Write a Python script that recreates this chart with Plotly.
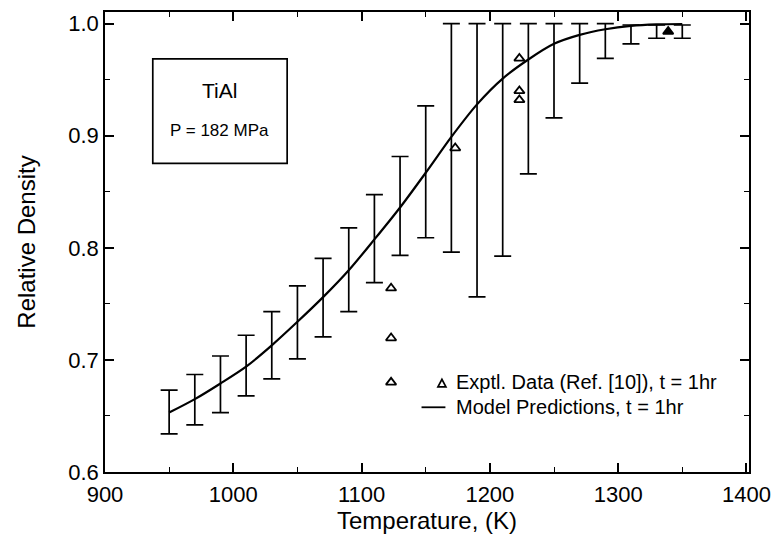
import plotly.graph_objects as go

# ---------------- data ----------------
model_T = [950, 970, 990, 1010, 1030, 1050, 1070, 1090, 1110, 1130, 1150,
           1170, 1190, 1210, 1230, 1250, 1270, 1290, 1310, 1330, 1350]
model_rho = [0.653, 0.665, 0.679, 0.694, 0.713, 0.734, 0.756, 0.780, 0.8075, 0.836, 0.867,
             0.899, 0.928, 0.951, 0.968, 0.982, 0.990, 0.995, 0.998, 0.9993, 0.9997]
band_upper = [0.673, 0.687, 0.7035, 0.722, 0.743, 0.766, 0.7906, 0.8178, 0.8475, 0.8815, 0.9266,
              1.0, 1.0, 1.0, 1.0, 1.0, 1.0, 1.0, 0.9988, 0.9988, 0.9988]
band_lower = [0.634, 0.642, 0.653, 0.668, 0.683, 0.701, 0.7206, 0.743, 0.769, 0.7932, 0.809,
              0.7962, 0.7562, 0.7926, 0.866, 0.916, 0.947, 0.969, 0.982, 0.987, 0.987]

exp_T = [1123, 1123, 1123, 1173, 1223, 1223, 1223, 1339]
exp_rho = [0.764, 0.7195, 0.680, 0.889, 0.969, 0.940, 0.932, 0.993]
exp_filled = [False, False, False, False, False, False, False, True]

x_ticks = [900, 1000, 1100, 1200, 1300, 1400]
y_ticks = [0.6, 0.7, 0.8, 0.9, 1.0]
y_tick_text = ["0.6", "0.7", "0.8", "0.9", "1.0"]

legend_exp = "Exptl. Data (Ref. [10]), t = 1hr"
legend_model = "Model Predictions, t = 1hr"
box_title = "TiAl"
box_sub = "P = 182 MPa"

# ---------------- figure ----------------
W, H = 781, 540
L, R, T, B = 105, 29, 10, 68
PW, PH = W - L - R, H - T - B

def px(xp):
    return (xp - L) / PW

def py(yp):
    return (H - B - yp) / PH

FONT = "Liberation Sans, Arial, Helvetica, sans-serif"

err_plus = [u - m for u, m in zip(band_upper, model_rho)]
err_minus = [m - l for m, l in zip(model_rho, band_lower)]

fig = go.Figure()

fig.add_trace(go.Scatter(
    x=model_T, y=model_rho, mode="lines",
    line=dict(color="black", width=2.2, shape="spline", smoothing=0.8),
    error_y=dict(type="data", symmetric=False, array=err_plus, arrayminus=err_minus,
                 color="black", thickness=1.7, width=8.5),
    showlegend=False, hoverinfo="skip"))

fig.add_trace(go.Scatter(
    x=exp_T, y=exp_rho, mode="markers",
    marker=dict(symbol=["triangle-up" if f else "triangle-up-open" for f in exp_filled],
                size=9, color="black", line=dict(color="black", width=1.8)),
    showlegend=False, hoverinfo="skip"))

axis_common = dict(
    showline=True, linecolor="black", linewidth=1.7, mirror="ticks",
    ticks="inside", ticklen=9, tickwidth=1.5, tickcolor="black",
    showgrid=False, zeroline=False,
    tickfont=dict(family=FONT, size=22, color="black"),
)

fig.update_xaxes(
    range=[900, 1402], tickvals=x_ticks, ticktext=[str(v) for v in x_ticks],
    minor=dict(dtick=50, ticks="inside", ticklen=5, tickwidth=1.3, tickcolor="black", tick0=900),
    title=dict(text="Temperature, (K)", font=dict(family=FONT, size=24, color="black"), standoff=5),
    ticklabelstandoff=2,
    **axis_common)
fig.update_yaxes(
    range=[0.6, 1.0104], tickvals=y_ticks, ticktext=y_tick_text,
    minor=dict(dtick=0.05, ticks="inside", ticklen=5, tickwidth=1.3, tickcolor="black", tick0=0.6),
    title=dict(text="Relative Density", font=dict(family=FONT, size=24, color="black"), standoff=26),
    **axis_common)

shapes = []
annotations = []

# label box
shapes.append(dict(type="rect", xref="paper", yref="paper",
                   x0=px(153), x1=px(288), y0=py(162), y1=py(57),
                   line=dict(color="black", width=1.7), fillcolor="rgba(0,0,0,0)"))
annotations.append(dict(xref="paper", yref="paper", x=px(220), y=py(89), text=box_title,
                        showarrow=False, xanchor="center", yanchor="middle",
                        font=dict(family=FONT, size=21, color="black")))
annotations.append(dict(xref="paper", yref="paper", x=px(220), y=py(129), text=box_sub,
                        showarrow=False, xanchor="center", yanchor="middle",
                        font=dict(family=FONT, size=17, color="black")))

# legend (drawn manually)
annotations.append(dict(xref="paper", yref="paper", x=px(456), y=py(382), text=legend_exp,
                        showarrow=False, xanchor="left", yanchor="middle",
                        font=dict(family=FONT, size=20, color="black")))
annotations.append(dict(xref="paper", yref="paper", x=px(456), y=py(407), text=legend_model,
                        showarrow=False, xanchor="left", yanchor="middle",
                        font=dict(family=FONT, size=20, color="black")))
shapes.append(dict(type="line", xref="paper", yref="paper",
                   x0=px(423), x1=px(447), y0=py(407), y1=py(407),
                   line=dict(color="black", width=1.8)))
shapes.append(dict(type="path", xref="paper", yref="paper",
                   xsizemode="pixel", ysizemode="pixel",
                   xanchor=px(443.5), yanchor=py(383),
                   path="M -4,-3.5 L 4,-3.5 L 0,4 Z",
                   line=dict(color="black", width=1.7), fillcolor="rgba(0,0,0,0)"))

fig.update_layout(
    width=W, height=H,
    margin=dict(l=L, r=R, t=T, b=B, pad=0),
    paper_bgcolor="white", plot_bgcolor="white",
    shapes=shapes, annotations=annotations,
    font=dict(family=FONT, color="black"),
)

fig.write_html("out.html")
